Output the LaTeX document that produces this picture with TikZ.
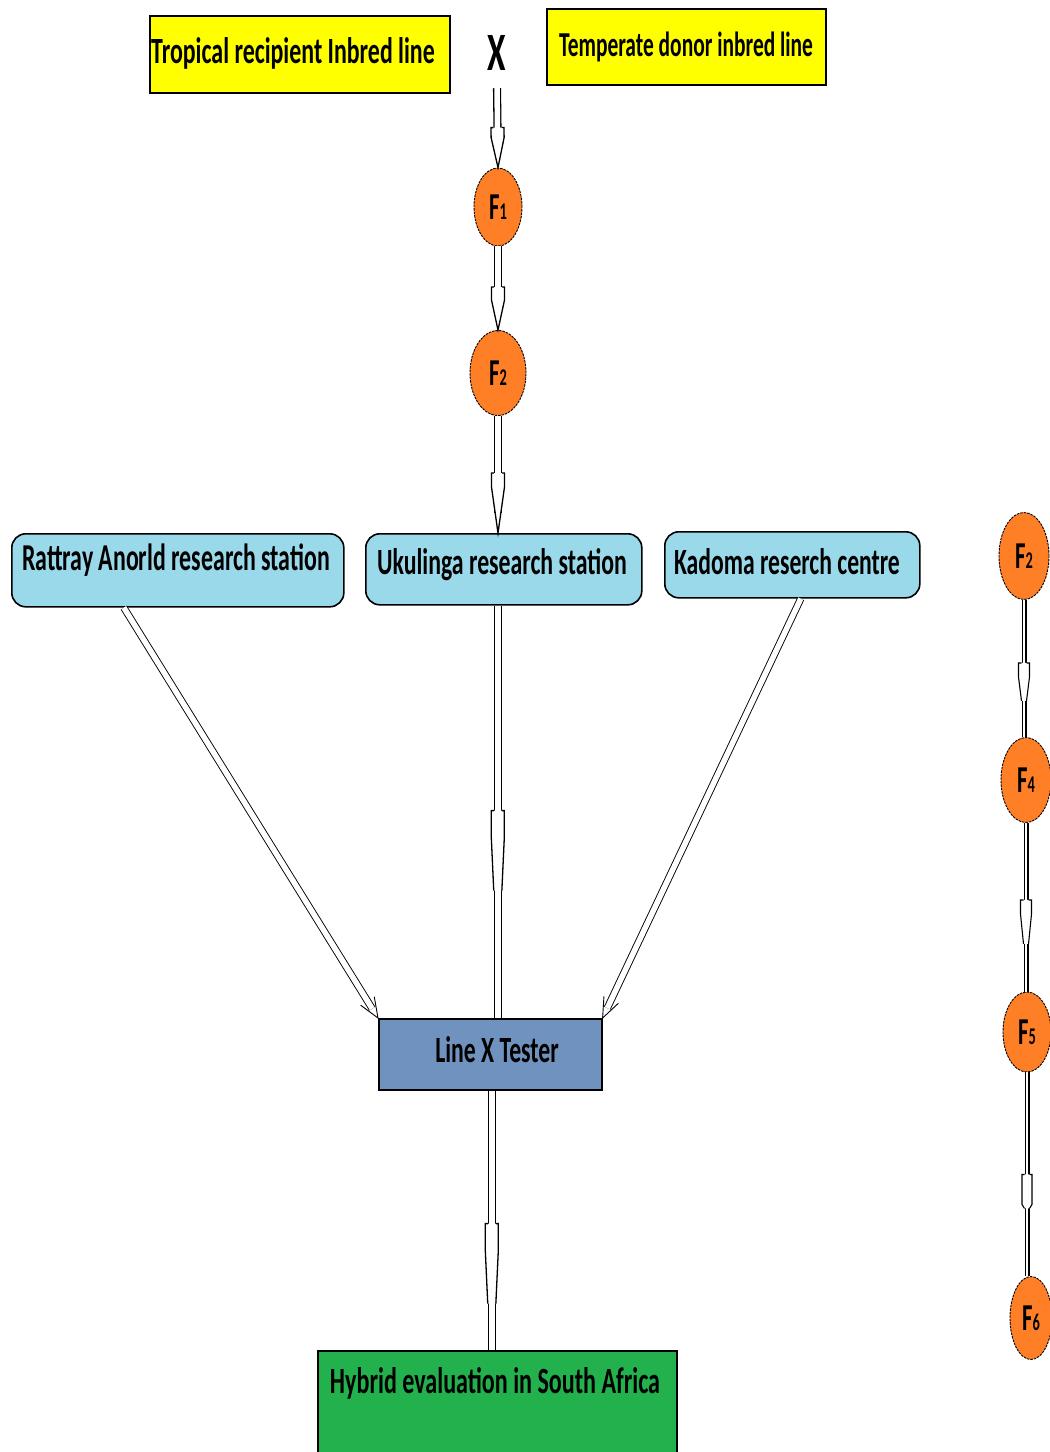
\documentclass[tikz,border=0pt]{standalone}
\usepackage{graphicx}
\usepackage{fontspec}
\setmainfont{Carlito}
\usetikzlibrary{decorations.markings,shapes.geometric}
\definecolor{yel}{HTML}{FFFF00}
\definecolor{org}{HTML}{FF7F27}
\definecolor{lblue}{HTML}{99D9EA}
\definecolor{steel}{HTML}{7092BE}
\definecolor{grn}{HTML}{22B14C}
\newcommand\sqz[3]{{\fontsize{#1pt}{#1pt}\selectfont\bfseries\scalebox{#2}[1]{#3}}}
\newcommand\flab[1]{{\fontsize{38pt}{38pt}\selectfont\bfseries\scalebox{0.6}[1]{F{\fontsize{24pt}{24pt}\selectfont #1}}}}
% hollow arrow head ending in a point: back, step, wide half-width, shaft half-width, line width
\newcommand\tiphead[5]{%
  \fill[white] (#1pt,-#3pt) -- (#2pt,-#3pt) -- (0pt,0pt) -- (#2pt,#3pt) -- (#1pt,#3pt) -- cycle;
  \draw[line width=#5pt, line join=miter] (#1pt,-#4pt) -- (#1pt,-#3pt) -- (#2pt,-#3pt) -- (0pt,0pt) -- (#2pt,#3pt) -- (#1pt,#3pt) -- (#1pt,#4pt);}
% hollow arrow head in the middle of a shaft: back, step, front, wide half, shaft half, line width
\newcommand\midhead[6]{%
  \fill[white] (#1pt,-#4pt) -- (#2pt,-#4pt) -- (#3pt,-#5pt) -- (#3pt,#5pt) -- (#2pt,#4pt) -- (#1pt,#4pt) -- cycle;
  \draw[line width=#6pt, line join=miter] (#1pt,-#5pt) -- (#1pt,-#4pt) -- (#2pt,-#4pt) -- (#3pt,-#5pt)
        (#1pt,#5pt) -- (#1pt,#4pt) -- (#2pt,#4pt) -- (#3pt,#5pt);}
\newcommand\vtip{\draw[line width=0.9pt] (-20pt,-8pt) -- (0pt,0pt) -- (-20pt,8pt);}
\begin{document}
\begin{tikzpicture}[x=1pt,y=-1pt,
  txt/.style={inner sep=0pt, anchor=base, font=\bfseries},
  ybox/.style={draw=black, line width=1.6pt, fill=yel, inner sep=0pt, anchor=north west},
  bbox/.style={draw=black, line width=1.6pt, fill=lblue, inner sep=0pt, anchor=north west, rounded corners=14pt},
  lbox/.style={draw=black, line width=1.6pt, fill=steel, inner sep=0pt, anchor=north west},
  gbox/.style={draw=black, line width=1.6pt, fill=grn, inner sep=0pt, anchor=north west},
  fnode/.style={ellipse, draw=black, fill=org, line width=0.9pt, dash pattern=on 2.5pt off 1pt, inner sep=0pt},
  shaft/.style={draw=black, line width=1.3pt, double=white, double distance=5.5pt},
  thinshaft/.style={draw=black, line width=1.1pt, double=white, double distance=2.8pt},
  diag/.style={draw=black, line width=0.9pt, double=white, double distance=5.5pt, shorten >=11pt},
  deco/.style={postaction={decorate}, decoration={markings, mark=#1}}
]
\useasboundingbox (0,0) rectangle (1050,1452);
\clip (0,0) rectangle (1050,1452);

% top boxes
\node[ybox, minimum width=300pt, minimum height=77pt] (trop) at (149,15) {};
\node[txt] (tropT) at (293,63) {\sqz{37}{0.646}{Tropical recipient Inbred line}};
\node[ybox, minimum width=279pt, minimum height=76pt] (temp) at (546,8) {};
\node[txt] (tempT) at (686,56) {\sqz{35}{0.613}{Temperate donor inbred line}};
\node[txt] (cross) at (497,70) {\sqz{54}{0.62}{X}};

% generations
\node[fnode, minimum width=48pt, minimum height=78pt] (f1) at (498,207) {\flab{1}};
\node[fnode, minimum width=56pt, minimum height=85pt] (f2) at (498,373) {\flab{2}};

% stations
\node[bbox, minimum width=332pt, minimum height=73pt] (rat) at (11,533) {};
\node[txt] (ratT) at (176,570) {\sqz{38}{0.628}{Rattray Anorld research station}};
\node[bbox, minimum width=276pt, minimum height=71pt] (uku) at (365,533) {};
\node[txt] (ukuT) at (502,574) {\sqz{37}{0.643}{Ukulinga research station}};
\node[bbox, minimum width=255pt, minimum height=66pt] (kad) at (664,531) {};
\node[txt] (kadT) at (787,574) {\sqz{37}{0.639}{Kadoma reserch centre}};

% line x tester and hybrid
\node[lbox, minimum width=223pt, minimum height=71pt] (lxt) at (378,1018) {};
\node[txt] (lxtT) at (497,1062) {\sqz{37}{0.641}{Line X Tester}};
\node[gbox, minimum width=359pt, minimum height=130pt] (hyb) at (317,1350) {};
\node[txt] (hybT) at (495,1393) {\sqz{37}{0.651}{Hybrid evaluation in South Africa}};

% right column
\node[fnode, minimum width=50pt, minimum height=87pt] (g3) at (1024,556) {\flab{2}};
\node[fnode, minimum width=50pt, minimum height=85pt] (g4) at (1026,780) {\flab{4}};
\node[fnode, minimum width=48pt, minimum height=80pt] (g5) at (1027,1032) {\flab{5}};
\node[fnode, minimum width=42pt, minimum height=83pt] (g6) at (1031,1318) {\flab{6}};

% vertical hollow arrows
\draw[shaft, shorten >=20pt] ([yshift=-18pt]cross.south) -- (f1.north);
\path[deco={at position 1 with {\tiphead{-40}{-30}{6.5}{4.05}{1.3}}}] ([yshift=-18pt]cross.south) -- (f1.north);
\draw[shaft, shorten >=20pt] (f1.south) -- (f2.north);
\path[deco={at position 1 with {\tiphead{-43}{-30}{6.5}{4.05}{1.3}}}] (f1.south) -- (f2.north);
\draw[shaft, shorten >=20pt] (f2.south) -- (f2.south |- uku.north);
\path[deco={at position 1 with {\tiphead{-60}{-46}{6.5}{4.05}{1.3}}}] (f2.south) -- (f2.south |- uku.north);

\draw[shaft] ([xshift=-6pt]uku.south) -- ([xshift=7.5pt]lxt.north);
\path[deco={at position 245pt with {\midhead{-40}{-13}{40}{6.5}{4.05}{1.3}}}] ([xshift=-6pt]uku.south) -- ([xshift=7.5pt]lxt.north);
\draw[shaft] ([xshift=1.5pt]lxt.south) -- ([xshift=-5.5pt]hyb.north);
\path[deco={at position 173pt with {\midhead{-40}{-13}{40}{6.5}{4.05}{1.3}}}] ([xshift=1.5pt]lxt.south) -- ([xshift=-5.5pt]hyb.north);

% diagonal arrows
\draw[diag] ([xshift=-54pt]rat.south) -- (lxt.north west);
\path[deco={at position 1 with {\vtip}}] ([xshift=-54pt]rat.south) -- (lxt.north west);
\draw[diag] ([xshift=8.5pt]kad.south) -- (lxt.north east);
\path[deco={at position 1 with {\vtip}}] ([xshift=8.5pt]kad.south) -- (lxt.north east);

% right column arrows
\draw[thinshaft] (g3.south) -- (g3.south |- g4.north);
\path[deco={at position 81pt with {\midhead{-18}{-4}{20}{5.5}{2.5}{1.1}}}] (g3.south) -- (g3.south |- g4.north);
\draw[thinshaft] (g4.south) -- (g4.south |- g5.north);
\path[deco={at position 99pt with {\midhead{-22}{-8}{22}{5.5}{2.5}{1.1}}}] (g4.south) -- (g4.south |- g5.north);
\draw[thinshaft] (g5.south) -- (g5.south |- g6.north);
\path[deco={at position 119pt with {\midhead{-17}{13}{17}{5}{2.5}{1.1}}}] (g5.south) -- (g5.south |- g6.north);
\end{tikzpicture}
\end{document}
